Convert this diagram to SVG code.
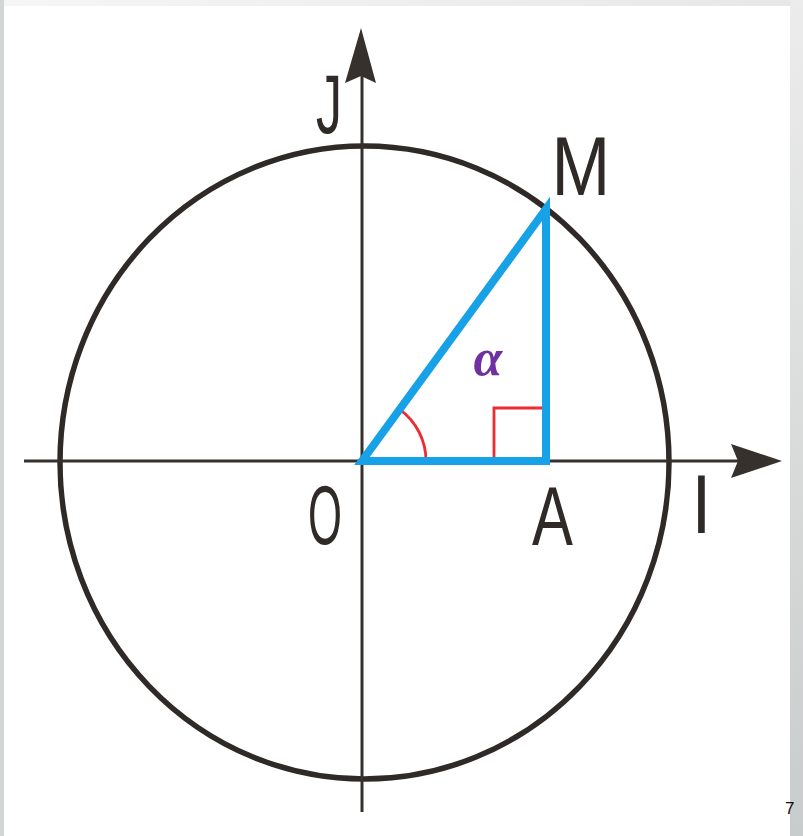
<svg xmlns="http://www.w3.org/2000/svg" width="803" height="836" viewBox="0 0 803 836">
  <defs>
    <linearGradient id="gr" x1="0" y1="0" x2="0" y2="1">
      <stop offset="0" stop-color="#ececec"/>
      <stop offset="1" stop-color="#c9cccc"/>
    </linearGradient>
    <linearGradient id="gt" x1="0" y1="0" x2="1" y2="0">
      <stop offset="0" stop-color="#f6f6f6"/>
      <stop offset="1" stop-color="#e6e7e6"/>
    </linearGradient>
  </defs>
  <style>
    .axis { stroke: #37312e; stroke-width: 3; fill: none; }
    .head { fill: #37312e; }
    .circ { stroke: #2f2a27; stroke-width: 5.5; fill: none; }
    .blue { stroke: #17a1e6; stroke-width: 8; fill: none; stroke-linejoin: miter; }
    .red { stroke: #ee2a33; stroke-width: 2.8; fill: none; }
    .lbl { font-family: "Liberation Sans", Arial, sans-serif; font-size: 84px; fill: #2f2a27; text-anchor: middle; }
    .alpha { font-family: "Liberation Serif", "DejaVu Serif", serif; font-style: italic; font-weight: bold; font-size: 52px; fill: #7030a0; text-anchor: middle; }
  </style>
  <rect width="803" height="836" fill="#ffffff"/>
  <rect x="0" y="0" width="803" height="6" fill="url(#gt)"/>
  <rect x="0" y="0" width="4" height="836" fill="#d3d6d6"/>

  <g id="circle">
    <ellipse class="circ" cx="364.5" cy="462.5" rx="304.5" ry="316.5"/>
  </g>

  <g id="connectors">
    <line class="axis" x1="24" y1="461" x2="740" y2="461"/>
    <line class="axis" x1="362" y1="76" x2="362" y2="812"/>
    <polygon class="head" points="782,461 731,444 738,461 731,478"/>
    <polygon class="head" points="361,28 345,83 361,76 376,83"/>
  </g>

  <g id="triangle">
    <path class="red" d="M 494 461 V 408 H 546"/>
    <path class="red" d="M 399.7 409.3 A 64 64 0 0 1 426 461"/>
    <path class="blue" d="M 362 461 L 546 461 L 546 209 Z"/>
  </g>

  <g id="labels">
    <text class="lbl" transform="translate(329,133) scale(0.62,1)">J</text>
    <text class="lbl" transform="translate(581,195) scale(0.84,1)">M</text>
    <text class="lbl" transform="translate(325,544) scale(0.52,1)">O</text>
    <text class="lbl" transform="translate(552.5,545) scale(0.73,1)">A</text>
    <text class="lbl" transform="translate(701.5,533) scale(0.85,1)">I</text>
    <text class="alpha" x="488" y="375">α</text>
  </g>

  <rect x="790" y="0" width="13" height="836" fill="url(#gr)"/>
  <text x="785" y="814" font-family="Liberation Sans, Arial, sans-serif" font-size="17" fill="#111111">7</text>
</svg>
